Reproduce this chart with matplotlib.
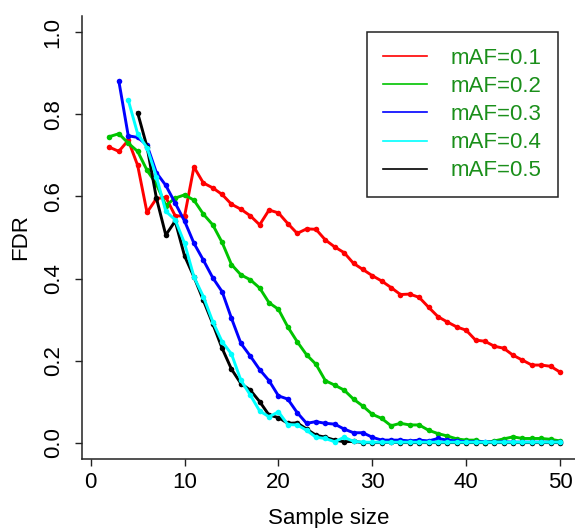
import numpy as np
import matplotlib
matplotlib.use("Agg")
import matplotlib.pyplot as plt

plt.rcParams["font.family"] = ["Liberation Sans", "DejaVu Sans"]

sample_size = np.arange(2, 51)

# FDR per sample size; series start later for larger mAF (NaN before start)
fdr_maf01 = [0.720, 0.710, 0.737, 0.676, 0.561, 0.595, 0.598, 0.553, 0.552, 0.672,
             0.633, 0.621, 0.605, 0.581, 0.569, 0.553, 0.531, 0.567, 0.560, 0.534,
             0.510, 0.521, 0.520, 0.494, 0.477, 0.463, 0.437, 0.422, 0.407, 0.394,
             0.378, 0.361, 0.362, 0.354, 0.330, 0.307, 0.294, 0.282, 0.274, 0.250,
             0.247, 0.235, 0.230, 0.213, 0.201, 0.189, 0.189, 0.186, 0.172]
fdr_maf02 = [0.746, 0.753, 0.730, 0.710, 0.664, 0.630, 0.578, 0.596, 0.604, 0.591,
             0.557, 0.531, 0.488, 0.434, 0.409, 0.397, 0.377, 0.341, 0.325, 0.282,
             0.246, 0.214, 0.191, 0.151, 0.140, 0.128, 0.106, 0.089, 0.069, 0.059,
             0.041, 0.047, 0.043, 0.043, 0.030, 0.022, 0.016, 0.009, 0.006, 0.006,
             0.000, 0.004, 0.009, 0.014, 0.010, 0.010, 0.010, 0.008, 0.004]
fdr_maf03 = [np.nan, 0.881, 0.748, 0.744, 0.725, 0.658, 0.627, 0.584, 0.540, 0.486,
             0.445, 0.402, 0.368, 0.303, 0.242, 0.211, 0.178, 0.151, 0.114, 0.106,
             0.073, 0.047, 0.051, 0.047, 0.045, 0.033, 0.024, 0.024, 0.013, 0.006,
             0.006, 0.006, 0.004, 0.006, 0.004, 0.010, 0.006, 0.004, 0.002, 0.002,
             0.002, 0.001, 0.002, 0.001, 0.001, 0.001, 0.001, 0.001, 0.001]
fdr_maf04 = [np.nan, np.nan, 0.835, 0.753, 0.719, 0.648, 0.564, 0.543, 0.486, 0.404,
             0.356, 0.295, 0.246, 0.216, 0.152, 0.116, 0.077, 0.063, 0.075, 0.044,
             0.043, 0.030, 0.013, 0.010, 0.002, 0.013, 0.003, 0.001, 0.001, 0.001,
             0.001, 0.001, 0.001, 0.001, 0.001, 0.001, 0.001, 0.001, 0.001, 0.001,
             0.001, 0.001, 0.001, 0.001, 0.001, 0.001, 0.001, 0.001, 0.001]
fdr_maf05 = [np.nan, np.nan, np.nan, 0.804, 0.721, 0.596, 0.506, 0.540, 0.455, 0.404,
             0.347, 0.290, 0.230, 0.179, 0.144, 0.128, 0.100, 0.067, 0.061, 0.047,
             0.048, 0.033, 0.018, 0.013, 0.006, 0.002, 0.003, 0.000, 0.000, 0.000,
             0.001, 0.000, 0.000, 0.000, 0.000, 0.000, 0.000, 0.000, 0.000, 0.000,
             0.000, 0.000, 0.000, 0.000, 0.000, 0.000, 0.000, 0.000, 0.000]

labels = ["mAF=0.1", "mAF=0.2", "mAF=0.3", "mAF=0.4", "mAF=0.5"]
colors = ["#ff0000", "#00c400", "#0000ff", "#00ffff", "#000000"]
series = [fdr_maf01, fdr_maf02, fdr_maf03, fdr_maf04, fdr_maf05]
draw_order = [0, 1, 2, 4, 3]

fig = plt.figure(figsize=(5.75, 5.28), dpi=100)
ax = fig.add_axes([81.7 / 575, 69 / 528, (575 - 81.7) / 575, 443 / 528])

for i in draw_order:
    ax.plot(sample_size, series[i], color=colors[i], lw=2.1, marker="o",
            markersize=4, markeredgewidth=0)

ax.set_xlim(-0.96, 51.6)
ax.set_ylim(-0.04, 1.04)
ax.set_xticks([0, 10, 20, 30, 40, 50])
ax.set_yticks([0.0, 0.2, 0.4, 0.6, 0.8, 1.0])
ax.set_yticklabels(["0.0", "0.2", "0.4", "0.6", "0.8", "1.0"], rotation=90, va="center")
ax.tick_params(axis="both", labelsize=16, length=5, width=1, color="#222222")
ax.tick_params(axis="x", pad=4)
ax.tick_params(axis="y", pad=8)
for side in ["top", "right"]:
    ax.spines[side].set_visible(False)
for side in ["left", "bottom"]:
    ax.spines[side].set_linewidth(1.1)
    ax.spines[side].set_color("#222222")

ax.set_xlabel("Sample size", fontsize=16, labelpad=11)
ax.set_ylabel("FDR", fontsize=16, labelpad=8)

handles = [plt.Line2D([], [], color=c, lw=1.2) for c in colors]
leg = ax.legend(handles, labels, loc="upper right", bbox_to_anchor=(0.9655, 0.964),
                borderaxespad=0, fontsize=16, handlelength=1.94, handletextpad=1.1,
                borderpad=0.72, labelspacing=0.32, fancybox=False, framealpha=1,
                edgecolor="#222222")
leg.get_frame().set_linewidth(1.1)
for t in leg.get_texts():
    t.set_color("#1a8f1a")

fig.savefig("out.png", dpi=100)
